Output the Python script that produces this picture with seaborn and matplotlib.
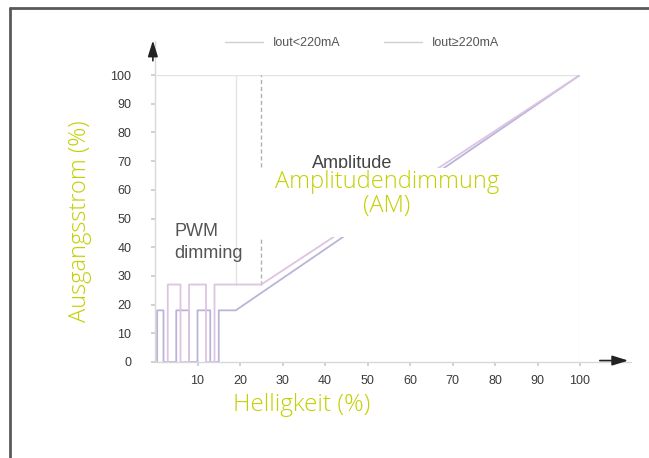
import numpy as np
import pandas as pd
import matplotlib
matplotlib.use('Agg')
import matplotlib.pyplot as plt
import matplotlib.patches as patches
from matplotlib.lines import Line2D
import seaborn as sns

# 数据：PWM脉冲 + 幅度调光
low_x = [0.5, 0.5, 2, 2, 5, 5, 8, 8, 10, 10, 13, 13, 15, 15, 19, 100]
low_y = [0, 18, 18, 0, 0, 18, 18, 0, 0, 18, 18, 0, 0, 18, 18, 100]
high_x = [3, 3, 6, 6, 8, 8, 12, 12, 14, 14, 25, 100]
high_y = [0, 27, 27, 0, 0, 27, 27, 0, 0, 27, 27, 100]
series_names = ['Iout<220mA', 'Iout≥220mA']
series_colors = ['#bab4d8', '#dcc4e2']
xticks = [10, 20, 30, 40, 50, 60, 70, 80, 90, 100]
yticks = [0, 10, 20, 30, 40, 50, 60, 70, 80, 90, 100]

df_low = pd.DataFrame({'x': low_x, 'y': low_y})
df_high = pd.DataFrame({'x': high_x, 'y': high_y})

sns.set_theme(style='white')
plt.rcParams['font.family'] = ['Liberation Sans', 'DejaVu Sans']

fig = plt.figure(figsize=(6.49, 4.58), dpi=100)
ax = fig.add_axes([155/649, 1-362/458, 425/649, 287/458])

sns.lineplot(data=df_low, x='x', y='y', sort=False, estimator=None, ax=ax,
             color=series_colors[0], lw=1.3)
sns.lineplot(data=df_high, x='x', y='y', sort=False, estimator=None, ax=ax,
             color=series_colors[1], lw=1.3)

ax.set_xlim(0, 100)
ax.set_ylim(0, 100)
for s in ax.spines.values():
    s.set_visible(False)

# 背景框线
ax.plot([0, 100], [100, 100], color='#e2e2e2', lw=1, zorder=0)
ax.plot([100, 100], [0, 100], color='#ececec', lw=1, zorder=0)
ax.plot([19, 19], [27, 100], color='#e4e4e4', lw=1, zorder=0)
ax.plot([25, 25], [27, 100], color='#b0b0b0', lw=1, ls=(0, (3, 2)), zorder=0)

# 坐标轴和箭头
ax.plot([0, 0], [0, 112], color='#d8d8d8', lw=1, clip_on=False)
ax.plot([0, 112], [0, 0], color='#d8d8d8', lw=1, clip_on=False)
ax.annotate('', xy=(-0.5, 113), xytext=(-0.5, 104), annotation_clip=False,
            arrowprops=dict(arrowstyle='-|>,head_width=0.25,head_length=0.8', color='#222', lw=1.2))
ax.annotate('', xy=(112, 0.5), xytext=(104, 0.5), annotation_clip=False,
            arrowprops=dict(arrowstyle='-|>,head_width=0.25,head_length=0.8', color='#222', lw=1.2))

ax.set_xticks(xticks)
ax.set_yticks(yticks)
ax.tick_params(axis='both', which='both', length=3, color='#cccccc', labelsize=9,
               labelcolor='#3a3a3a', bottom=True, left=True)
ax.tick_params(axis='y', pad=14)
ax.tick_params(axis='x', pad=6)
ax.set_xlabel('')
ax.set_ylabel('')

ax.text(4.5, 41.5, 'PWM\ndimming', fontsize=13, color='#555555', ha='left', va='center',
        linespacing=1.4)
ax.text(46.5, 69.2, 'Amplitude', fontsize=13, color='#444444', ha='center', va='center')

handles = [Line2D([0], [0], color='#cfcfcf', lw=1),
           Line2D([0], [0], color='#cfcfcf', lw=1)]
fig.legend(handles, series_names, loc='center', bbox_to_anchor=(362/649, 1-43/458),
           ncol=2, frameon=False, fontsize=9, handlelength=3.0, columnspacing=3.5,
           labelcolor='#555555')

# 覆盖的白框和德语标签
fig.patches.append(patches.Rectangle((257/649, 1-237/458), 248/649, 69/458,
                                     transform=fig.transFigure, facecolor='white',
                                     edgecolor='none', zorder=5))
green = '#c4d000'
fig.text(387/649, 1-194/458, 'Amplitudendimmung\n(AM)', ha='center', va='center',
         fontsize=17, color=green, family='Open Sans', weight='light',
         linespacing=0.95, zorder=6)
fig.text(80/649, 1-221/458, 'Ausgangsstrom (%)', rotation=90, ha='center', va='center',
         fontsize=17, color=green, family='Open Sans', weight='light')
fig.text(302/649, 1-405/458, 'Helligkeit (%)', ha='center', va='center',
         fontsize=17.5, color=green, family='Open Sans', weight='light')

# 外框
fig.add_artist(Line2D([10/649, 10/649], [0, 1-8/458], transform=fig.transFigure,
                      color='#5a5a5a', lw=2))
fig.add_artist(Line2D([10/649, 1], [1-8/458, 1-8/458], transform=fig.transFigure,
                      color='#5a5a5a', lw=2))

plt.savefig('out.png', dpi=100)
